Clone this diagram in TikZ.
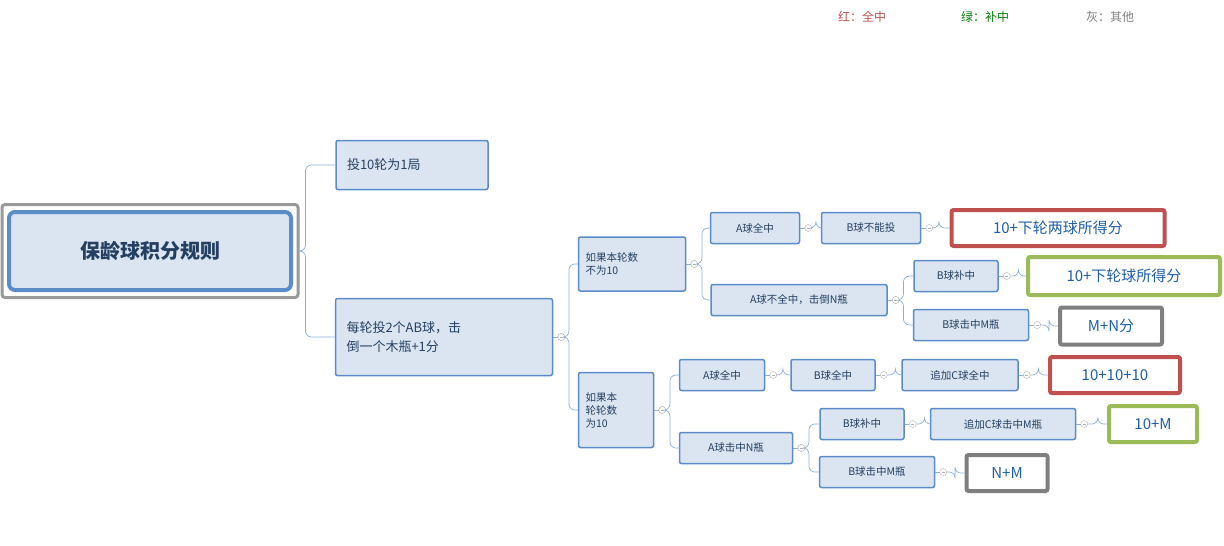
\documentclass[tikz,border=0pt]{standalone}
\usepackage{fontspec}
\setmainfont{Noto Sans CJK SC}
\definecolor{boxfill}{HTML}{DBE5F1}
\definecolor{boxline}{HTML}{5B8CC8}
\definecolor{txtblue}{HTML}{243F60}
\definecolor{resblue}{HTML}{1F5FA8}
\definecolor{redline}{HTML}{C0504D}
\definecolor{greenline}{HTML}{9BBB59}
\definecolor{grayline}{HTML}{7F7F7F}
\tikzset{
  topic/.style={draw=boxline, fill=boxfill, line width=1.5pt, rounded corners=2pt,
    text=txtblue, font=\fontsize{10.5}{13}\selectfont, inner sep=0pt, align=left},
  result/.style={draw=#1, fill=white, line width=4pt, rounded corners=2pt,
    text=resblue, font=\fontsize{15}{18}\selectfont, inner sep=0pt},
  link/.style={draw=boxline!70, line width=0.7pt, rounded corners=6pt},
  knob/.style={circle, draw=gray!60, fill=white, minimum size=7pt, inner sep=0pt,
    path picture={\draw[gray!60] (path picture bounding box.west)++(2pt,0) -- ++(3pt,0);}},
}
\newcommand\branch[3]{%
  \node[knob] (k#1#2) at ([xshift=8pt]#1.east) {};
  \draw[link] (#1.east) -- (k#1#2.west);
  \draw[link] (k#1#2.east) -- ++(#3,0) |- (#2.west);}
\begin{document}
\begin{tikzpicture}[x=1pt, y=-1pt]
  \useasboundingbox (0,0) rectangle (1224,546);
  % legend
  \node[text=redline, font=\fontsize{12}{14}\selectfont] (lred) at (862,17) {红：全中};
  \node[text=green!50!black, font=\fontsize{12}{14}\selectfont] (lgreen) at (985,17) {绿：补中};
  \node[text=grayline, font=\fontsize{12}{14}\selectfont] (lgray) at (1110,17) {灰：其他};
  % root
  \node[draw=grayline!80, line width=3pt, rounded corners=3pt, minimum width=296pt,
    minimum height=93pt, inner sep=0pt] (rootframe) at (150,251) {};
  \node[topic, line width=4pt, rounded corners=6pt, minimum width=282pt, minimum height=78pt,
    align=center, font=\bfseries\fontsize{20}{24}\selectfont] (root) at (150,251) {保龄球积分规则};
  % main topics
  \node[topic, font=\fontsize{13}{19}\selectfont, minimum width=152pt, minimum height=49pt,
    text width=130pt] (turns) at (412,165) {投10轮为1局};
  \node[topic, font=\fontsize{13}{19}\selectfont, minimum width=217pt, minimum height=77pt,
    text width=195pt] (frame) at (444,337) {每轮投2个AB球，击\\倒一个木瓶+1分};
  % frame cases
  \node[topic, minimum width=107pt, minimum height=54pt, text width=93pt] (notlast) at (632,264) {如果本轮数\\不为10};
  \node[topic, minimum width=75pt, minimum height=75pt, text width=61pt] (last) at (616,410) {如果本\\轮轮数\\为10};
  % not last frame
  \node[topic, minimum width=89pt, minimum height=31pt, align=center] (astrike) at (755,228) {A球全中};
  \node[topic, minimum width=99pt, minimum height=31pt, align=center] (bnone) at (871,228) {B球不能投};
  \node[result=redline, minimum width=213pt, minimum height=36pt] (rstrike) at (1058,228) {10+下轮两球所得分};
  \node[topic, minimum width=176pt, minimum height=31pt, align=center] (amiss) at (799,300) {A球不全中，击倒N瓶};
  \node[topic, minimum width=84pt, minimum height=31pt, align=center] (bspare) at (956,276) {B球补中};
  \node[result=greenline, minimum width=192pt, minimum height=38pt] (rspare) at (1124,276) {10+下轮球所得分};
  \node[topic, minimum width=115pt, minimum height=31pt, align=center] (bhit) at (971,325) {B球击中M瓶};
  \node[result=grayline, minimum width=102pt, minimum height=37pt] (ropen) at (1111,326) {M+N分};
  % last frame
  \node[topic, minimum width=85pt, minimum height=31pt, align=center] (lastrike) at (722,375) {A球全中};
  \node[topic, minimum width=84pt, minimum height=31pt, align=center] (lbstrike) at (833,375) {B球全中};
  \node[topic, minimum width=116pt, minimum height=31pt, align=center] (lcstrike) at (960,375) {追加C球全中};
  \node[result=redline, minimum width=130pt, minimum height=36pt] (rturkey) at (1115,375) {10+10+10};
  \node[topic, minimum width=113pt, minimum height=31pt, align=center] (lahit) at (736,448) {A球击中N瓶};
  \node[topic, minimum width=84pt, minimum height=31pt, align=center] (lbspare) at (862,424) {B球补中};
  \node[topic, minimum width=145pt, minimum height=31pt, align=center] (lchit) at (1003,424) {追加C球击中M瓶};
  \node[result=greenline, minimum width=88pt, minimum height=36pt] (rlspare) at (1153,424) {10+M};
  \node[topic, minimum width=115pt, minimum height=31pt, align=center] (lbhit) at (877,472) {B球击中M瓶};
  \node[result=grayline, minimum width=81pt, minimum height=36pt] (rlopen) at (1007,473) {N+M};
  % connectors
  \draw[link] (rootframe.east) -- ++(6,0) |- (turns.west);
  \draw[link] (rootframe.east) -- ++(6,0) |- (frame.west);
  \branch{frame}{notlast}{4}
  \branch{frame}{last}{4}
  \branch{notlast}{astrike}{4}
  \branch{notlast}{amiss}{4}
  \branch{astrike}{bnone}{4}
  \branch{bnone}{rstrike}{6}
  \branch{amiss}{bspare}{4}
  \branch{amiss}{bhit}{4}
  \branch{bspare}{rspare}{8}
  \branch{bhit}{ropen}{8}
  \branch{last}{lastrike}{4}
  \branch{last}{lahit}{4}
  \branch{lastrike}{lbstrike}{6}
  \branch{lbstrike}{lcstrike}{8}
  \branch{lcstrike}{rturkey}{8}
  \branch{lahit}{lbspare}{4}
  \branch{lahit}{lbhit}{4}
  \branch{lbspare}{lchit}{8}
  \branch{lchit}{rlspare}{10}
  \branch{lbhit}{rlopen}{8}
\end{tikzpicture}
\end{document}
